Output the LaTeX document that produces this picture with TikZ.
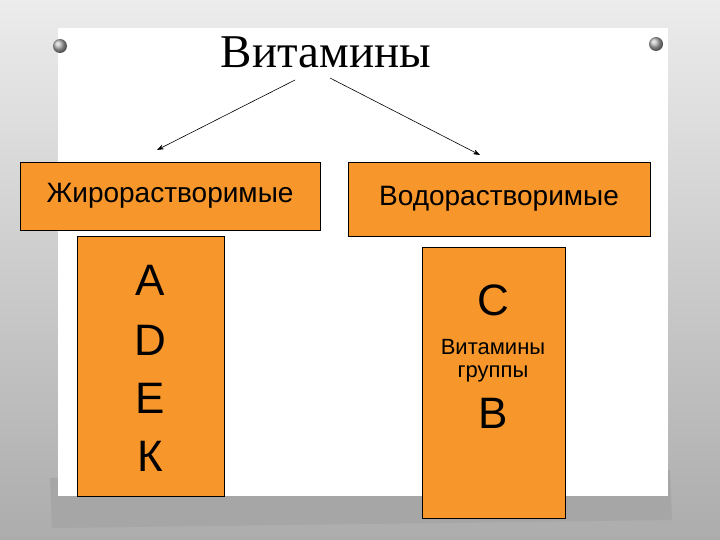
\documentclass[tikz,border=0pt]{standalone}
\usepackage{fontspec}
\usetikzlibrary{arrows.meta}
\setmainfont{Liberation Serif}
\newfontfamily\arialf{Liberation Sans}
\definecolor{boxor}{HTML}{F7962B}
\tikzset{
  obox/.style={draw=black, line width=0.6pt, fill=boxor},
  arr/.style={-{Stealth[length=7pt,width=5pt]}, line width=0.6pt},
  pin/.style={circle, inner sep=0pt, minimum size=14pt, shading=ball, ball color=gray!60},
  big/.style={font=\arialf\fontsize{44}{48}\selectfont},
  small/.style={font=\arialf\fontsize{22}{26}\selectfont}
}
\begin{document}
\begin{tikzpicture}[x=1pt,y=-1pt]
\useasboundingbox (0,0) rectangle (720,540);
\shade[top color=gray!15, bottom color=gray!65] (0,0) rectangle (720,540);
\fill[gray!70] (50,478) -- (670,470) -- (672,520) -- (52,528) -- cycle;
\fill[white] (58,28) rectangle (668,496);
\node[pin] (p1) at (60,46) {};
\node[pin] (p2) at (656,44) {};
\node[font=\fontsize{47}{52}\selectfont] (t) at (326,52) {Витамины};
\coordinate (a1s) at (295,80); \coordinate (a1e) at (157,150);
\coordinate (a2s) at (330,78); \coordinate (a2e) at (480,155);
\draw[arr] (a1s) -- (a1e);
\draw[arr] (a2s) -- (a2e);
\node[obox, minimum width=300pt, minimum height=68pt, font=\arialf\fontsize{28}{32}\selectfont] (b1) at (170,196) {Жирорастворимые};
\node[obox, minimum width=302pt, minimum height=74pt, font=\arialf\fontsize{28}{32}\selectfont] (b2) at (499,199) {Водорастворимые};
\node[obox, minimum width=147pt, minimum height=260pt] (b3) at (150.5,366) {};
\node[obox, minimum width=143pt, minimum height=271pt] (b4) at (493.5,382.5) {};
\foreach \t/\y in {A/280,D/340,E/398,К/456}
  \node[big] at (150,\y) {\t};
\node[big] (c) at (493,300) {C};
\node[small] (v) at (493,347) {Витамины};
\node[small] (g) at (493,374) {группы};
\node[big] (bb) at (493,413) {B};
\end{tikzpicture}
\end{document}
